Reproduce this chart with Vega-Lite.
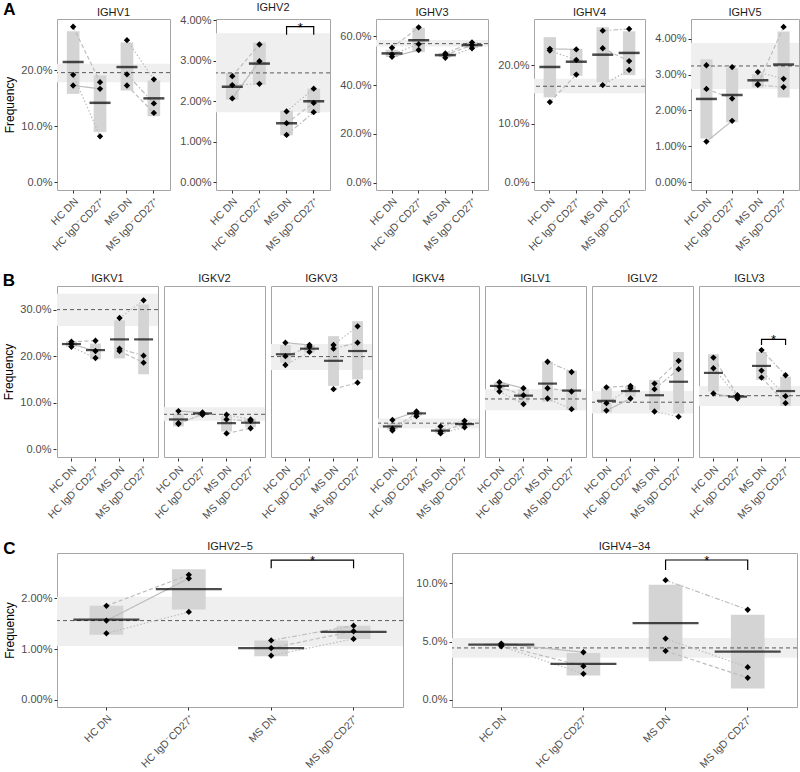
{
"$schema": "https://vega.github.io/schema/vega-lite/v6.json",
"background": "white",
"padding": {"left": 2, "top": 0, "right": 0, "bottom": 0},
"config": {
 "font": "Liberation Sans",
 "view": {"stroke": "#a6a6a6", "strokeWidth": 1},
 "axis": {"grid": false, "domain": false, "tickColor": "#333333", "tickSize": 3, "labelColor": "#4d4d4d", "labelFontSize": 11, "titleFontSize": 12, "titleFontWeight": "normal", "titleColor": "#000000", "labelPadding": 2, "titlePadding": 4},
 "axisX": {"labelAngle": -45, "labelPadding": 3, "labelFontSize": 10.5},
 "title": {"fontSize": 11, "fontWeight": "normal", "color": "#1a1a1a", "offset": 1},
 "concat": {"spacing": 8}
},
"data": {"values": [
{"gene":"IGHV1","kind":"ref","lo":17.9,"hi":21.2,"v":19.6},
{"gene":"IGHV1","kind":"sum","group":"HC DN","lo":15.8,"hi":27.0,"v":21.5},
{"gene":"IGHV1","kind":"sum","group":"HC IgD⁻CD27⁺","lo":9.0,"hi":19.1,"v":14.2},
{"gene":"IGHV1","kind":"sum","group":"MS DN","lo":16.4,"hi":25.0,"v":20.6},
{"gene":"IGHV1","kind":"sum","group":"MS IgD⁻CD27⁺","lo":11.8,"hi":18.2,"v":15.0},
{"gene":"IGHV1","kind":"pt","group":"HC DN","donor":"HC1","v":17.3},
{"gene":"IGHV1","kind":"pt","group":"HC DN","donor":"HC2","v":27.8},
{"gene":"IGHV1","kind":"pt","group":"HC DN","donor":"HC3","v":19.2},
{"gene":"IGHV1","kind":"pt","group":"HC IgD⁻CD27⁺","donor":"HC1","v":16.7},
{"gene":"IGHV1","kind":"pt","group":"HC IgD⁻CD27⁺","donor":"HC2","v":17.9},
{"gene":"IGHV1","kind":"pt","group":"HC IgD⁻CD27⁺","donor":"HC3","v":8.2},
{"gene":"IGHV1","kind":"pt","group":"MS DN","donor":"MS1","v":19.3},
{"gene":"IGHV1","kind":"pt","group":"MS DN","donor":"MS2","v":17.3},
{"gene":"IGHV1","kind":"pt","group":"MS DN","donor":"MS3","v":25.4},
{"gene":"IGHV1","kind":"pt","group":"MS IgD⁻CD27⁺","donor":"MS1","v":14.1},
{"gene":"IGHV1","kind":"pt","group":"MS IgD⁻CD27⁺","donor":"MS2","v":12.4},
{"gene":"IGHV1","kind":"pt","group":"MS IgD⁻CD27⁺","donor":"MS3","v":18.4},

{"gene":"IGHV2","kind":"ref","lo":1.73,"hi":3.68,"v":2.70},
{"gene":"IGHV2","kind":"sum","group":"HC DN","lo":2.04,"hi":2.70,"v":2.36},
{"gene":"IGHV2","kind":"sum","group":"HC IgD⁻CD27⁺","lo":2.41,"hi":3.45,"v":2.93},
{"gene":"IGHV2","kind":"sum","group":"MS DN","lo":1.16,"hi":1.77,"v":1.46},
{"gene":"IGHV2","kind":"sum","group":"MS IgD⁻CD27⁺","lo":1.71,"hi":2.31,"v":2.00},
{"gene":"IGHV2","kind":"pt","group":"HC DN","donor":"HC1","v":2.07},
{"gene":"IGHV2","kind":"pt","group":"HC DN","donor":"HC2","v":2.62},
{"gene":"IGHV2","kind":"pt","group":"HC DN","donor":"HC3","v":2.40},
{"gene":"IGHV2","kind":"pt","group":"HC IgD⁻CD27⁺","donor":"HC1","v":2.99},
{"gene":"IGHV2","kind":"pt","group":"HC IgD⁻CD27⁺","donor":"HC2","v":3.40},
{"gene":"IGHV2","kind":"pt","group":"HC IgD⁻CD27⁺","donor":"HC3","v":2.43},
{"gene":"IGHV2","kind":"pt","group":"MS DN","donor":"MS1","v":1.17},
{"gene":"IGHV2","kind":"pt","group":"MS DN","donor":"MS2","v":1.46},
{"gene":"IGHV2","kind":"pt","group":"MS DN","donor":"MS3","v":1.75},
{"gene":"IGHV2","kind":"pt","group":"MS IgD⁻CD27⁺","donor":"MS1","v":1.73},
{"gene":"IGHV2","kind":"pt","group":"MS IgD⁻CD27⁺","donor":"MS2","v":1.96},
{"gene":"IGHV2","kind":"pt","group":"MS IgD⁻CD27⁺","donor":"MS3","v":2.31},
{"gene":"IGHV2","kind":"br","group":"MS DN","v":3.64,"ord":1},
{"gene":"IGHV2","kind":"br","group":"MS DN","v":3.84,"ord":2},
{"gene":"IGHV2","kind":"br","group":"MS IgD⁻CD27⁺","v":3.84,"ord":3},
{"gene":"IGHV2","kind":"br","group":"MS IgD⁻CD27⁺","v":3.64,"ord":4},
{"gene":"IGHV2","kind":"star","group":"MS IgD⁻CD27⁺","v":3.84,"label":"*"},

{"gene":"IGHV3","kind":"ref","lo":55.8,"hi":58.5,"v":57.0},
{"gene":"IGHV3","kind":"sum","group":"HC DN","lo":51.5,"hi":54.5,"v":53.0},
{"gene":"IGHV3","kind":"sum","group":"HC IgD⁻CD27⁺","lo":53.5,"hi":63.5,"v":58.4},
{"gene":"IGHV3","kind":"sum","group":"MS DN","lo":51.4,"hi":53.2,"v":52.3},
{"gene":"IGHV3","kind":"sum","group":"MS IgD⁻CD27⁺","lo":55.2,"hi":57.6,"v":56.4},
{"gene":"IGHV3","kind":"pt","group":"HC DN","donor":"HC1","v":51.6},
{"gene":"IGHV3","kind":"pt","group":"HC DN","donor":"HC2","v":55.3},
{"gene":"IGHV3","kind":"pt","group":"HC DN","donor":"HC3","v":52.6},
{"gene":"IGHV3","kind":"pt","group":"HC IgD⁻CD27⁺","donor":"HC1","v":54.4},
{"gene":"IGHV3","kind":"pt","group":"HC IgD⁻CD27⁺","donor":"HC2","v":63.7},
{"gene":"IGHV3","kind":"pt","group":"HC IgD⁻CD27⁺","donor":"HC3","v":56.8},
{"gene":"IGHV3","kind":"pt","group":"MS DN","donor":"MS1","v":53.0},
{"gene":"IGHV3","kind":"pt","group":"MS DN","donor":"MS2","v":52.3},
{"gene":"IGHV3","kind":"pt","group":"MS DN","donor":"MS3","v":51.2},
{"gene":"IGHV3","kind":"pt","group":"MS IgD⁻CD27⁺","donor":"MS1","v":57.5},
{"gene":"IGHV3","kind":"pt","group":"MS IgD⁻CD27⁺","donor":"MS2","v":56.4},
{"gene":"IGHV3","kind":"pt","group":"MS IgD⁻CD27⁺","donor":"MS3","v":55.1},

{"gene":"IGHV4","kind":"ref","lo":15.2,"hi":17.7,"v":16.4},
{"gene":"IGHV4","kind":"sum","group":"HC DN","lo":14.5,"hi":24.8,"v":19.7},
{"gene":"IGHV4","kind":"sum","group":"HC IgD⁻CD27⁺","lo":18.2,"hi":22.8,"v":20.6},
{"gene":"IGHV4","kind":"sum","group":"MS DN","lo":17.1,"hi":26.5,"v":21.8},
{"gene":"IGHV4","kind":"sum","group":"MS IgD⁻CD27⁺","lo":18.3,"hi":25.8,"v":22.1},
{"gene":"IGHV4","kind":"pt","group":"HC DN","donor":"HC1","v":22.8},
{"gene":"IGHV4","kind":"pt","group":"HC DN","donor":"HC2","v":13.7},
{"gene":"IGHV4","kind":"pt","group":"HC DN","donor":"HC3","v":22.5},
{"gene":"IGHV4","kind":"pt","group":"HC IgD⁻CD27⁺","donor":"HC1","v":22.7},
{"gene":"IGHV4","kind":"pt","group":"HC IgD⁻CD27⁺","donor":"HC2","v":18.4},
{"gene":"IGHV4","kind":"pt","group":"HC IgD⁻CD27⁺","donor":"HC3","v":20.9},
{"gene":"IGHV4","kind":"pt","group":"MS DN","donor":"MS1","v":25.9},
{"gene":"IGHV4","kind":"pt","group":"MS DN","donor":"MS2","v":22.9},
{"gene":"IGHV4","kind":"pt","group":"MS DN","donor":"MS3","v":16.6},
{"gene":"IGHV4","kind":"pt","group":"MS IgD⁻CD27⁺","donor":"MS1","v":26.2},
{"gene":"IGHV4","kind":"pt","group":"MS IgD⁻CD27⁺","donor":"MS2","v":20.7},
{"gene":"IGHV4","kind":"pt","group":"MS IgD⁻CD27⁺","donor":"MS3","v":19.2},

{"gene":"IGHV5","kind":"ref","lo":2.60,"hi":3.88,"v":3.24},
{"gene":"IGHV5","kind":"sum","group":"HC DN","lo":1.22,"hi":3.43,"v":2.32},
{"gene":"IGHV5","kind":"sum","group":"HC IgD⁻CD27⁺","lo":1.67,"hi":3.18,"v":2.43},
{"gene":"IGHV5","kind":"sum","group":"MS DN","lo":2.64,"hi":3.01,"v":2.84},
{"gene":"IGHV5","kind":"sum","group":"MS IgD⁻CD27⁺","lo":2.36,"hi":4.20,"v":3.28},
{"gene":"IGHV5","kind":"pt","group":"HC DN","donor":"HC1","v":1.13},
{"gene":"IGHV5","kind":"pt","group":"HC DN","donor":"HC2","v":2.60},
{"gene":"IGHV5","kind":"pt","group":"HC DN","donor":"HC3","v":3.26},
{"gene":"IGHV5","kind":"pt","group":"HC IgD⁻CD27⁺","donor":"HC1","v":1.71},
{"gene":"IGHV5","kind":"pt","group":"HC IgD⁻CD27⁺","donor":"HC2","v":2.33},
{"gene":"IGHV5","kind":"pt","group":"HC IgD⁻CD27⁺","donor":"HC3","v":3.21},
{"gene":"IGHV5","kind":"pt","group":"MS DN","donor":"MS1","v":2.71},
{"gene":"IGHV5","kind":"pt","group":"MS DN","donor":"MS2","v":2.73},
{"gene":"IGHV5","kind":"pt","group":"MS DN","donor":"MS3","v":3.07},
{"gene":"IGHV5","kind":"pt","group":"MS IgD⁻CD27⁺","donor":"MS1","v":2.65},
{"gene":"IGHV5","kind":"pt","group":"MS IgD⁻CD27⁺","donor":"MS2","v":4.33},
{"gene":"IGHV5","kind":"pt","group":"MS IgD⁻CD27⁺","donor":"MS3","v":2.88},

{"gene":"IGKV1","kind":"ref","lo":26.5,"hi":33.4,"v":30.0},
{"gene":"IGKV1","kind":"sum","group":"HC DN","lo":22.0,"hi":23.2,"v":22.6},
{"gene":"IGKV1","kind":"sum","group":"HC IgD⁻CD27⁺","lo":19.3,"hi":22.7,"v":21.3},
{"gene":"IGKV1","kind":"sum","group":"MS DN","lo":19.5,"hi":27.7,"v":23.6},
{"gene":"IGKV1","kind":"sum","group":"MS IgD⁻CD27⁺","lo":16.1,"hi":31.1,"v":23.6},
{"gene":"IGKV1","kind":"pt","group":"HC DN","donor":"HC1","v":22.6},
{"gene":"IGKV1","kind":"pt","group":"HC DN","donor":"HC2","v":23.1},
{"gene":"IGKV1","kind":"pt","group":"HC DN","donor":"HC3","v":22.0},
{"gene":"IGKV1","kind":"pt","group":"HC IgD⁻CD27⁺","donor":"HC1","v":21.1},
{"gene":"IGKV1","kind":"pt","group":"HC IgD⁻CD27⁺","donor":"HC2","v":23.3},
{"gene":"IGKV1","kind":"pt","group":"HC IgD⁻CD27⁺","donor":"HC3","v":19.6},
{"gene":"IGKV1","kind":"pt","group":"MS DN","donor":"MS1","v":21.6},
{"gene":"IGKV1","kind":"pt","group":"MS DN","donor":"MS2","v":21.1},
{"gene":"IGKV1","kind":"pt","group":"MS DN","donor":"MS3","v":28.2},
{"gene":"IGKV1","kind":"pt","group":"MS IgD⁻CD27⁺","donor":"MS1","v":20.1},
{"gene":"IGKV1","kind":"pt","group":"MS IgD⁻CD27⁺","donor":"MS2","v":18.6},
{"gene":"IGKV1","kind":"pt","group":"MS IgD⁻CD27⁺","donor":"MS3","v":32.0},

{"gene":"IGKV2","kind":"ref","lo":6.1,"hi":9.0,"v":7.5},
{"gene":"IGKV2","kind":"sum","group":"HC DN","lo":4.9,"hi":7.7,"v":6.4},
{"gene":"IGKV2","kind":"sum","group":"HC IgD⁻CD27⁺","lo":7.4,"hi":8.0,"v":7.7},
{"gene":"IGKV2","kind":"sum","group":"MS DN","lo":3.8,"hi":7.1,"v":5.6},
{"gene":"IGKV2","kind":"sum","group":"MS IgD⁻CD27⁺","lo":4.7,"hi":6.6,"v":5.7},
{"gene":"IGKV2","kind":"pt","group":"HC DN","donor":"HC1","v":8.2},
{"gene":"IGKV2","kind":"pt","group":"HC DN","donor":"HC2","v":5.4},
{"gene":"IGKV2","kind":"pt","group":"HC DN","donor":"HC3","v":5.6},
{"gene":"IGKV2","kind":"pt","group":"HC IgD⁻CD27⁺","donor":"HC1","v":7.9},
{"gene":"IGKV2","kind":"pt","group":"HC IgD⁻CD27⁺","donor":"HC2","v":7.6},
{"gene":"IGKV2","kind":"pt","group":"HC IgD⁻CD27⁺","donor":"HC3","v":7.4},
{"gene":"IGKV2","kind":"pt","group":"MS DN","donor":"MS1","v":6.4},
{"gene":"IGKV2","kind":"pt","group":"MS DN","donor":"MS2","v":3.4},
{"gene":"IGKV2","kind":"pt","group":"MS DN","donor":"MS3","v":7.4},
{"gene":"IGKV2","kind":"pt","group":"MS IgD⁻CD27⁺","donor":"MS1","v":6.1},
{"gene":"IGKV2","kind":"pt","group":"MS IgD⁻CD27⁺","donor":"MS2","v":4.5},
{"gene":"IGKV2","kind":"pt","group":"MS IgD⁻CD27⁺","donor":"MS3","v":6.4},

{"gene":"IGKV3","kind":"ref","lo":17.0,"hi":22.6,"v":19.9},
{"gene":"IGKV3","kind":"sum","group":"HC DN","lo":18.6,"hi":22.4,"v":20.4},
{"gene":"IGKV3","kind":"sum","group":"HC IgD⁻CD27⁺","lo":20.8,"hi":22.4,"v":21.6},
{"gene":"IGKV3","kind":"sum","group":"MS DN","lo":13.6,"hi":24.3,"v":19.0},
{"gene":"IGKV3","kind":"sum","group":"MS IgD⁻CD27⁺","lo":15.0,"hi":27.5,"v":21.1},
{"gene":"IGKV3","kind":"pt","group":"HC DN","donor":"HC1","v":22.9},
{"gene":"IGKV3","kind":"pt","group":"HC DN","donor":"HC2","v":20.0},
{"gene":"IGKV3","kind":"pt","group":"HC DN","donor":"HC3","v":18.1},
{"gene":"IGKV3","kind":"pt","group":"HC IgD⁻CD27⁺","donor":"HC1","v":22.4},
{"gene":"IGKV3","kind":"pt","group":"HC IgD⁻CD27⁺","donor":"HC2","v":22.0},
{"gene":"IGKV3","kind":"pt","group":"HC IgD⁻CD27⁺","donor":"HC3","v":20.9},
{"gene":"IGKV3","kind":"pt","group":"MS DN","donor":"MS1","v":21.6},
{"gene":"IGKV3","kind":"pt","group":"MS DN","donor":"MS2","v":12.9},
{"gene":"IGKV3","kind":"pt","group":"MS DN","donor":"MS3","v":22.4},
{"gene":"IGKV3","kind":"pt","group":"MS IgD⁻CD27⁺","donor":"MS1","v":22.9},
{"gene":"IGKV3","kind":"pt","group":"MS IgD⁻CD27⁺","donor":"MS2","v":14.3},
{"gene":"IGKV3","kind":"pt","group":"MS IgD⁻CD27⁺","donor":"MS3","v":26.4},

{"gene":"IGKV4","kind":"ref","lo":4.5,"hi":6.6,"v":5.6},
{"gene":"IGKV4","kind":"sum","group":"HC DN","lo":4.2,"hi":5.6,"v":4.9},
{"gene":"IGKV4","kind":"sum","group":"HC IgD⁻CD27⁺","lo":7.2,"hi":8.1,"v":7.7},
{"gene":"IGKV4","kind":"sum","group":"MS DN","lo":3.4,"hi":4.6,"v":4.0},
{"gene":"IGKV4","kind":"sum","group":"MS IgD⁻CD27⁺","lo":4.8,"hi":6.0,"v":5.4},
{"gene":"IGKV4","kind":"pt","group":"HC DN","donor":"HC1","v":6.3},
{"gene":"IGKV4","kind":"pt","group":"HC DN","donor":"HC2","v":4.4},
{"gene":"IGKV4","kind":"pt","group":"HC DN","donor":"HC3","v":4.0},
{"gene":"IGKV4","kind":"pt","group":"HC IgD⁻CD27⁺","donor":"HC1","v":8.1},
{"gene":"IGKV4","kind":"pt","group":"HC IgD⁻CD27⁺","donor":"HC2","v":7.7},
{"gene":"IGKV4","kind":"pt","group":"HC IgD⁻CD27⁺","donor":"HC3","v":7.1},
{"gene":"IGKV4","kind":"pt","group":"MS DN","donor":"MS1","v":4.9},
{"gene":"IGKV4","kind":"pt","group":"MS DN","donor":"MS2","v":3.8},
{"gene":"IGKV4","kind":"pt","group":"MS DN","donor":"MS3","v":3.4},
{"gene":"IGKV4","kind":"pt","group":"MS IgD⁻CD27⁺","donor":"MS1","v":6.1},
{"gene":"IGKV4","kind":"pt","group":"MS IgD⁻CD27⁺","donor":"MS2","v":5.4},
{"gene":"IGKV4","kind":"pt","group":"MS IgD⁻CD27⁺","donor":"MS3","v":4.7},

{"gene":"IGLV1","kind":"ref","lo":8.4,"hi":12.9,"v":10.8},
{"gene":"IGLV1","kind":"sum","group":"HC DN","lo":12.6,"hi":14.4,"v":13.6},
{"gene":"IGLV1","kind":"sum","group":"HC IgD⁻CD27⁺","lo":10.0,"hi":12.9,"v":11.5},
{"gene":"IGLV1","kind":"sum","group":"MS DN","lo":10.2,"hi":18.8,"v":14.1},
{"gene":"IGLV1","kind":"sum","group":"MS IgD⁻CD27⁺","lo":8.4,"hi":16.9,"v":12.6},
{"gene":"IGLV1","kind":"pt","group":"HC DN","donor":"HC1","v":14.4},
{"gene":"IGLV1","kind":"pt","group":"HC DN","donor":"HC2","v":13.4},
{"gene":"IGLV1","kind":"pt","group":"HC DN","donor":"HC3","v":12.4},
{"gene":"IGLV1","kind":"pt","group":"HC IgD⁻CD27⁺","donor":"HC1","v":13.1},
{"gene":"IGLV1","kind":"pt","group":"HC IgD⁻CD27⁺","donor":"HC2","v":11.6},
{"gene":"IGLV1","kind":"pt","group":"HC IgD⁻CD27⁺","donor":"HC3","v":9.7},
{"gene":"IGLV1","kind":"pt","group":"MS DN","donor":"MS1","v":18.8},
{"gene":"IGLV1","kind":"pt","group":"MS DN","donor":"MS2","v":13.1},
{"gene":"IGLV1","kind":"pt","group":"MS DN","donor":"MS3","v":10.9},
{"gene":"IGLV1","kind":"pt","group":"MS IgD⁻CD27⁺","donor":"MS1","v":16.6},
{"gene":"IGLV1","kind":"pt","group":"MS IgD⁻CD27⁺","donor":"MS2","v":12.4},
{"gene":"IGLV1","kind":"pt","group":"MS IgD⁻CD27⁺","donor":"MS3","v":8.6},

{"gene":"IGLV2","kind":"ref","lo":7.7,"hi":12.5,"v":10.1},
{"gene":"IGLV2","kind":"sum","group":"HC DN","lo":7.9,"hi":13.1,"v":10.4},
{"gene":"IGLV2","kind":"sum","group":"HC IgD⁻CD27⁺","lo":11.3,"hi":13.6,"v":12.5},
{"gene":"IGLV2","kind":"sum","group":"MS DN","lo":8.4,"hi":14.9,"v":11.6},
{"gene":"IGLV2","kind":"sum","group":"MS IgD⁻CD27⁺","lo":7.7,"hi":20.9,"v":14.5},
{"gene":"IGLV2","kind":"pt","group":"HC DN","donor":"HC1","v":8.3},
{"gene":"IGLV2","kind":"pt","group":"HC DN","donor":"HC2","v":13.3},
{"gene":"IGLV2","kind":"pt","group":"HC DN","donor":"HC3","v":9.9},
{"gene":"IGLV2","kind":"pt","group":"HC IgD⁻CD27⁺","donor":"HC1","v":10.9},
{"gene":"IGLV2","kind":"pt","group":"HC IgD⁻CD27⁺","donor":"HC2","v":13.6},
{"gene":"IGLV2","kind":"pt","group":"HC IgD⁻CD27⁺","donor":"HC3","v":13.1},
{"gene":"IGLV2","kind":"pt","group":"MS DN","donor":"MS1","v":12.9},
{"gene":"IGLV2","kind":"pt","group":"MS DN","donor":"MS2","v":14.1},
{"gene":"IGLV2","kind":"pt","group":"MS DN","donor":"MS3","v":8.1},
{"gene":"IGLV2","kind":"pt","group":"MS IgD⁻CD27⁺","donor":"MS1","v":17.2},
{"gene":"IGLV2","kind":"pt","group":"MS IgD⁻CD27⁺","donor":"MS2","v":19.0},
{"gene":"IGLV2","kind":"pt","group":"MS IgD⁻CD27⁺","donor":"MS3","v":7.0},

{"gene":"IGLV3","kind":"ref","lo":9.3,"hi":13.6,"v":11.5},
{"gene":"IGLV3","kind":"sum","group":"HC DN","lo":12.4,"hi":20.4,"v":16.4},
{"gene":"IGLV3","kind":"sum","group":"HC IgD⁻CD27⁺","lo":11.0,"hi":11.6,"v":11.3},
{"gene":"IGLV3","kind":"sum","group":"MS DN","lo":14.9,"hi":20.9,"v":17.9},
{"gene":"IGLV3","kind":"sum","group":"MS IgD⁻CD27⁺","lo":9.3,"hi":15.6,"v":12.5},
{"gene":"IGLV3","kind":"pt","group":"HC DN","donor":"HC1","v":12.0},
{"gene":"IGLV3","kind":"pt","group":"HC DN","donor":"HC2","v":19.7},
{"gene":"IGLV3","kind":"pt","group":"HC DN","donor":"HC3","v":17.4},
{"gene":"IGLV3","kind":"pt","group":"HC IgD⁻CD27⁺","donor":"HC1","v":10.9},
{"gene":"IGLV3","kind":"pt","group":"HC IgD⁻CD27⁺","donor":"HC2","v":11.6},
{"gene":"IGLV3","kind":"pt","group":"HC IgD⁻CD27⁺","donor":"HC3","v":11.3},
{"gene":"IGLV3","kind":"pt","group":"MS DN","donor":"MS1","v":21.3},
{"gene":"IGLV3","kind":"pt","group":"MS DN","donor":"MS2","v":15.4},
{"gene":"IGLV3","kind":"pt","group":"MS DN","donor":"MS3","v":16.9},
{"gene":"IGLV3","kind":"pt","group":"MS IgD⁻CD27⁺","donor":"MS1","v":15.9},
{"gene":"IGLV3","kind":"pt","group":"MS IgD⁻CD27⁺","donor":"MS2","v":9.9},
{"gene":"IGLV3","kind":"pt","group":"MS IgD⁻CD27⁺","donor":"MS3","v":11.4},
{"gene":"IGLV3","kind":"br","group":"MS DN","v":22.4,"ord":1},
{"gene":"IGLV3","kind":"br","group":"MS DN","v":23.6,"ord":2},
{"gene":"IGLV3","kind":"br","group":"MS IgD⁻CD27⁺","v":23.6,"ord":3},
{"gene":"IGLV3","kind":"br","group":"MS IgD⁻CD27⁺","v":22.4,"ord":4},
{"gene":"IGLV3","kind":"star","group":"MS IgD⁻CD27⁺","v":23.6,"label":"*"},

{"gene":"IGHV2-5","kind":"ref","lo":1.06,"hi":2.03,"v":1.56},
{"gene":"IGHV2-5","kind":"sum","group":"HC DN","lo":1.28,"hi":1.85,"v":1.58},
{"gene":"IGHV2-5","kind":"sum","group":"HC IgD⁻CD27⁺","lo":1.78,"hi":2.57,"v":2.18},
{"gene":"IGHV2-5","kind":"sum","group":"MS DN","lo":0.86,"hi":1.17,"v":1.02},
{"gene":"IGHV2-5","kind":"sum","group":"MS IgD⁻CD27⁺","lo":1.20,"hi":1.46,"v":1.34},
{"gene":"IGHV2-5","kind":"pt","group":"HC DN","donor":"HC1","v":1.56},
{"gene":"IGHV2-5","kind":"pt","group":"HC DN","donor":"HC2","v":1.85},
{"gene":"IGHV2-5","kind":"pt","group":"HC DN","donor":"HC3","v":1.31},
{"gene":"IGHV2-5","kind":"pt","group":"HC IgD⁻CD27⁺","donor":"HC1","v":2.39},
{"gene":"IGHV2-5","kind":"pt","group":"HC IgD⁻CD27⁺","donor":"HC2","v":2.46},
{"gene":"IGHV2-5","kind":"pt","group":"HC IgD⁻CD27⁺","donor":"HC3","v":1.73},
{"gene":"IGHV2-5","kind":"pt","group":"MS DN","donor":"MS1","v":1.17},
{"gene":"IGHV2-5","kind":"pt","group":"MS DN","donor":"MS2","v":1.02},
{"gene":"IGHV2-5","kind":"pt","group":"MS DN","donor":"MS3","v":0.87},
{"gene":"IGHV2-5","kind":"pt","group":"MS IgD⁻CD27⁺","donor":"MS1","v":1.46},
{"gene":"IGHV2-5","kind":"pt","group":"MS IgD⁻CD27⁺","donor":"MS2","v":1.35},
{"gene":"IGHV2-5","kind":"pt","group":"MS IgD⁻CD27⁺","donor":"MS3","v":1.20},
{"gene":"IGHV2-5","kind":"br","group":"MS DN","v":2.59,"ord":1},
{"gene":"IGHV2-5","kind":"br","group":"MS DN","v":2.75,"ord":2},
{"gene":"IGHV2-5","kind":"br","group":"MS IgD⁻CD27⁺","v":2.75,"ord":3},
{"gene":"IGHV2-5","kind":"br","group":"MS IgD⁻CD27⁺","v":2.59,"ord":4},
{"gene":"IGHV2-5","kind":"star","group":"MS IgD⁻CD27⁺","v":2.75,"label":"*"},

{"gene":"IGHV4-34","kind":"ref","lo":3.61,"hi":5.31,"v":4.46},
{"gene":"IGHV4-34","kind":"sum","group":"HC DN","lo":4.60,"hi":4.85,"v":4.74},
{"gene":"IGHV4-34","kind":"sum","group":"HC IgD⁻CD27⁺","lo":2.10,"hi":4.03,"v":3.10},
{"gene":"IGHV4-34","kind":"sum","group":"MS DN","lo":3.32,"hi":9.86,"v":6.59},
{"gene":"IGHV4-34","kind":"sum","group":"MS IgD⁻CD27⁺","lo":0.99,"hi":7.30,"v":4.15},
{"gene":"IGHV4-34","kind":"pt","group":"HC DN","donor":"HC1","v":4.83},
{"gene":"IGHV4-34","kind":"pt","group":"HC DN","donor":"HC2","v":4.69},
{"gene":"IGHV4-34","kind":"pt","group":"HC DN","donor":"HC3","v":4.60},
{"gene":"IGHV4-34","kind":"pt","group":"HC IgD⁻CD27⁺","donor":"HC1","v":4.09},
{"gene":"IGHV4-34","kind":"pt","group":"HC IgD⁻CD27⁺","donor":"HC2","v":2.90},
{"gene":"IGHV4-34","kind":"pt","group":"HC IgD⁻CD27⁺","donor":"HC3","v":2.24},
{"gene":"IGHV4-34","kind":"pt","group":"MS DN","donor":"MS1","v":10.26},
{"gene":"IGHV4-34","kind":"pt","group":"MS DN","donor":"MS2","v":4.20},
{"gene":"IGHV4-34","kind":"pt","group":"MS DN","donor":"MS3","v":5.26},
{"gene":"IGHV4-34","kind":"pt","group":"MS IgD⁻CD27⁺","donor":"MS1","v":7.73},
{"gene":"IGHV4-34","kind":"pt","group":"MS IgD⁻CD27⁺","donor":"MS2","v":1.90},
{"gene":"IGHV4-34","kind":"pt","group":"MS IgD⁻CD27⁺","donor":"MS3","v":2.81},
{"gene":"IGHV4-34","kind":"br","group":"MS DN","v":11.14,"ord":1},
{"gene":"IGHV4-34","kind":"br","group":"MS DN","v":11.99,"ord":2},
{"gene":"IGHV4-34","kind":"br","group":"MS IgD⁻CD27⁺","v":11.99,"ord":3},
{"gene":"IGHV4-34","kind":"br","group":"MS IgD⁻CD27⁺","v":11.14,"ord":4},
{"gene":"IGHV4-34","kind":"star","group":"MS IgD⁻CD27⁺","v":11.99,"label":"*"}
]},
"vconcat": [
{
 "title": {"text": "A", "anchor": "start", "frame": "bounds", "fontSize": 17, "fontWeight": "bold", "color": "#000000", "offset": -17},
 "spacing": 8,
 "hconcat": [
  {"width": 113, "height": 171, "title": "IGHV1",
   "transform": [{"filter": "datum.gene === 'IGHV1'"}],
   "layer": [
    {"transform": [{"filter": "datum.kind === 'ref'"}], "mark": {"type": "rect", "color": "#efefef"}, "encoding": {"y": {"field": "lo", "type": "quantitative", "title": "Frequency", "scale": {"domain": [-1.39, 29.19], "nice": false, "zero": false}, "axis": {"values": [0, 10, 20], "labelExpr": "format(datum.value, '.1f') + '%'"}}, "y2": {"field": "hi"}}},
    {"transform": [{"filter": "datum.kind === 'sum'"}], "mark": {"type": "bar", "color": "#d4d4d4", "width": {"band": 0.47}}, "encoding": {"x": {"field": "group", "type": "nominal", "scale": {"type": "band", "domain": ["HC DN", "HC IgD⁻CD27⁺", "MS DN", "MS IgD⁻CD27⁺"], "paddingInner": 0, "paddingOuter": 0.1}, "title": null}, "y": {"field": "lo", "type": "quantitative", "title": "Frequency"}, "y2": {"field": "hi"}}},
    {"transform": [{"filter": "datum.kind === 'ref'"}], "mark": {"type": "rule", "color": "#333333", "strokeWidth": 0.8, "strokeDash": [4, 3]}, "encoding": {"y": {"field": "v", "type": "quantitative", "title": "Frequency"}}},
    {"transform": [{"filter": "datum.kind === 'pt'"}], "mark": {"type": "line", "color": "#bdbdbd", "strokeWidth": 1.2}, "encoding": {"x": {"field": "group", "type": "nominal", "title": null}, "y": {"field": "v", "type": "quantitative", "title": "Frequency"}, "detail": {"field": "donor", "type": "nominal"}, "strokeDash": {"field": "donor", "type": "nominal", "scale": {"domain": ["HC1", "HC2", "HC3", "MS1", "MS2", "MS3"], "range": [[1, 0], [4, 2.5], [1.5, 2], [5, 2, 1.5, 2], [4, 2.5], [1.5, 2]]}, "legend": null}}},
    {"transform": [{"filter": "datum.kind === 'sum'"}], "mark": {"type": "tick", "color": "#000000", "thickness": 2.5, "size": 21}, "encoding": {"x": {"field": "group", "type": "nominal", "title": null}, "y": {"field": "v", "type": "quantitative", "title": "Frequency"}}},
    {"transform": [{"filter": "datum.kind === 'pt'"}], "mark": {"type": "point", "shape": "diamond", "filled": true, "color": "#000000", "opacity": 1, "size": 40}, "encoding": {"x": {"field": "group", "type": "nominal", "title": null}, "y": {"field": "v", "type": "quantitative", "title": "Frequency"}}}
   ]},
  {"width": 114, "height": 171, "title": "IGHV2",
   "transform": [{"filter": "datum.gene === 'IGHV2'"}],
   "layer": [
    {"transform": [{"filter": "datum.kind === 'ref'"}], "mark": {"type": "rect", "color": "#efefef"}, "encoding": {"y": {"field": "lo", "type": "quantitative", "title": null, "scale": {"domain": [-0.19, 4.03], "nice": false, "zero": false}, "axis": {"values": [0, 1, 2, 3, 4], "labelExpr": "format(datum.value, '.2f') + '%'"}}, "y2": {"field": "hi"}}},
    {"transform": [{"filter": "datum.kind === 'sum'"}], "mark": {"type": "bar", "color": "#d4d4d4", "width": {"band": 0.47}}, "encoding": {"x": {"field": "group", "type": "nominal", "scale": {"type": "band", "domain": ["HC DN", "HC IgD⁻CD27⁺", "MS DN", "MS IgD⁻CD27⁺"], "paddingInner": 0, "paddingOuter": 0.1}, "title": null}, "y": {"field": "lo", "type": "quantitative", "title": null}, "y2": {"field": "hi"}}},
    {"transform": [{"filter": "datum.kind === 'ref'"}], "mark": {"type": "rule", "color": "#333333", "strokeWidth": 0.8, "strokeDash": [4, 3]}, "encoding": {"y": {"field": "v", "type": "quantitative", "title": null}}},
    {"transform": [{"filter": "datum.kind === 'pt'"}], "mark": {"type": "line", "color": "#bdbdbd", "strokeWidth": 1.2}, "encoding": {"x": {"field": "group", "type": "nominal", "title": null}, "y": {"field": "v", "type": "quantitative", "title": null}, "detail": {"field": "donor", "type": "nominal"}, "strokeDash": {"field": "donor", "type": "nominal", "scale": {"domain": ["HC1", "HC2", "HC3", "MS1", "MS2", "MS3"], "range": [[1, 0], [4, 2.5], [1.5, 2], [5, 2, 1.5, 2], [4, 2.5], [1.5, 2]]}, "legend": null}}},
    {"transform": [{"filter": "datum.kind === 'sum'"}], "mark": {"type": "tick", "color": "#000000", "thickness": 2.5, "size": 21}, "encoding": {"x": {"field": "group", "type": "nominal", "title": null}, "y": {"field": "v", "type": "quantitative", "title": null}}},
    {"transform": [{"filter": "datum.kind === 'pt'"}], "mark": {"type": "point", "shape": "diamond", "filled": true, "color": "#000000", "opacity": 1, "size": 40}, "encoding": {"x": {"field": "group", "type": "nominal", "title": null}, "y": {"field": "v", "type": "quantitative", "title": null}}},
    {"transform": [{"filter": "datum.kind === 'br'"}], "mark": {"type": "line", "color": "#000000", "strokeWidth": 1.2}, "encoding": {"x": {"field": "group", "type": "nominal", "title": null}, "y": {"field": "v", "type": "quantitative", "title": null}, "order": {"field": "ord", "type": "quantitative"}}},
    {"transform": [{"filter": "datum.kind === 'star'"}], "mark": {"type": "text", "fontSize": 13, "dx": -13.5, "dy": 5, "baseline": "alphabetic", "color": "#000000"}, "encoding": {"x": {"field": "group", "type": "nominal", "title": null}, "y": {"field": "v", "type": "quantitative", "title": null}, "text": {"field": "label"}}}
   ]},
  {"width": 112, "height": 171, "title": "IGHV3",
   "transform": [{"filter": "datum.gene === 'IGHV3'"}],
   "layer": [
    {"transform": [{"filter": "datum.kind === 'ref'"}], "mark": {"type": "rect", "color": "#efefef"}, "encoding": {"y": {"field": "lo", "type": "quantitative", "title": null, "scale": {"domain": [-3.0, 67.1], "nice": false, "zero": false}, "axis": {"values": [0, 20, 40, 60], "labelExpr": "format(datum.value, '.1f') + '%'"}}, "y2": {"field": "hi"}}},
    {"transform": [{"filter": "datum.kind === 'sum'"}], "mark": {"type": "bar", "color": "#d4d4d4", "width": {"band": 0.47}}, "encoding": {"x": {"field": "group", "type": "nominal", "scale": {"type": "band", "domain": ["HC DN", "HC IgD⁻CD27⁺", "MS DN", "MS IgD⁻CD27⁺"], "paddingInner": 0, "paddingOuter": 0.1}, "title": null}, "y": {"field": "lo", "type": "quantitative", "title": null}, "y2": {"field": "hi"}}},
    {"transform": [{"filter": "datum.kind === 'ref'"}], "mark": {"type": "rule", "color": "#333333", "strokeWidth": 0.8, "strokeDash": [4, 3]}, "encoding": {"y": {"field": "v", "type": "quantitative", "title": null}}},
    {"transform": [{"filter": "datum.kind === 'pt'"}], "mark": {"type": "line", "color": "#bdbdbd", "strokeWidth": 1.2}, "encoding": {"x": {"field": "group", "type": "nominal", "title": null}, "y": {"field": "v", "type": "quantitative", "title": null}, "detail": {"field": "donor", "type": "nominal"}, "strokeDash": {"field": "donor", "type": "nominal", "scale": {"domain": ["HC1", "HC2", "HC3", "MS1", "MS2", "MS3"], "range": [[1, 0], [4, 2.5], [1.5, 2], [5, 2, 1.5, 2], [4, 2.5], [1.5, 2]]}, "legend": null}}},
    {"transform": [{"filter": "datum.kind === 'sum'"}], "mark": {"type": "tick", "color": "#000000", "thickness": 2.5, "size": 21}, "encoding": {"x": {"field": "group", "type": "nominal", "title": null}, "y": {"field": "v", "type": "quantitative", "title": null}}},
    {"transform": [{"filter": "datum.kind === 'pt'"}], "mark": {"type": "point", "shape": "diamond", "filled": true, "color": "#000000", "opacity": 1, "size": 40}, "encoding": {"x": {"field": "group", "type": "nominal", "title": null}, "y": {"field": "v", "type": "quantitative", "title": null}}}
   ]},
  {"width": 111, "height": 171, "title": "IGHV4",
   "transform": [{"filter": "datum.gene === 'IGHV4'"}],
   "layer": [
    {"transform": [{"filter": "datum.kind === 'ref'"}], "mark": {"type": "rect", "color": "#efefef"}, "encoding": {"y": {"field": "lo", "type": "quantitative", "title": null, "scale": {"domain": [-1.33, 27.9], "nice": false, "zero": false}, "axis": {"values": [0, 10, 20], "labelExpr": "format(datum.value, '.1f') + '%'"}}, "y2": {"field": "hi"}}},
    {"transform": [{"filter": "datum.kind === 'sum'"}], "mark": {"type": "bar", "color": "#d4d4d4", "width": {"band": 0.47}}, "encoding": {"x": {"field": "group", "type": "nominal", "scale": {"type": "band", "domain": ["HC DN", "HC IgD⁻CD27⁺", "MS DN", "MS IgD⁻CD27⁺"], "paddingInner": 0, "paddingOuter": 0.1}, "title": null}, "y": {"field": "lo", "type": "quantitative", "title": null}, "y2": {"field": "hi"}}},
    {"transform": [{"filter": "datum.kind === 'ref'"}], "mark": {"type": "rule", "color": "#333333", "strokeWidth": 0.8, "strokeDash": [4, 3]}, "encoding": {"y": {"field": "v", "type": "quantitative", "title": null}}},
    {"transform": [{"filter": "datum.kind === 'pt'"}], "mark": {"type": "line", "color": "#bdbdbd", "strokeWidth": 1.2}, "encoding": {"x": {"field": "group", "type": "nominal", "title": null}, "y": {"field": "v", "type": "quantitative", "title": null}, "detail": {"field": "donor", "type": "nominal"}, "strokeDash": {"field": "donor", "type": "nominal", "scale": {"domain": ["HC1", "HC2", "HC3", "MS1", "MS2", "MS3"], "range": [[1, 0], [4, 2.5], [1.5, 2], [5, 2, 1.5, 2], [4, 2.5], [1.5, 2]]}, "legend": null}}},
    {"transform": [{"filter": "datum.kind === 'sum'"}], "mark": {"type": "tick", "color": "#000000", "thickness": 2.5, "size": 21}, "encoding": {"x": {"field": "group", "type": "nominal", "title": null}, "y": {"field": "v", "type": "quantitative", "title": null}}},
    {"transform": [{"filter": "datum.kind === 'pt'"}], "mark": {"type": "point", "shape": "diamond", "filled": true, "color": "#000000", "opacity": 1, "size": 40}, "encoding": {"x": {"field": "group", "type": "nominal", "title": null}, "y": {"field": "v", "type": "quantitative", "title": null}}}
   ]},
  {"width": 108, "height": 171, "title": "IGHV5",
   "transform": [{"filter": "datum.gene === 'IGHV5'"}],
   "layer": [
    {"transform": [{"filter": "datum.kind === 'ref'"}], "mark": {"type": "rect", "color": "#efefef"}, "encoding": {"y": {"field": "lo", "type": "quantitative", "title": null, "scale": {"domain": [-0.22, 4.55], "nice": false, "zero": false}, "axis": {"values": [0, 1, 2, 3, 4], "labelExpr": "format(datum.value, '.2f') + '%'"}}, "y2": {"field": "hi"}}},
    {"transform": [{"filter": "datum.kind === 'sum'"}], "mark": {"type": "bar", "color": "#d4d4d4", "width": {"band": 0.47}}, "encoding": {"x": {"field": "group", "type": "nominal", "scale": {"type": "band", "domain": ["HC DN", "HC IgD⁻CD27⁺", "MS DN", "MS IgD⁻CD27⁺"], "paddingInner": 0, "paddingOuter": 0.1}, "title": null}, "y": {"field": "lo", "type": "quantitative", "title": null}, "y2": {"field": "hi"}}},
    {"transform": [{"filter": "datum.kind === 'ref'"}], "mark": {"type": "rule", "color": "#333333", "strokeWidth": 0.8, "strokeDash": [4, 3]}, "encoding": {"y": {"field": "v", "type": "quantitative", "title": null}}},
    {"transform": [{"filter": "datum.kind === 'pt'"}], "mark": {"type": "line", "color": "#bdbdbd", "strokeWidth": 1.2}, "encoding": {"x": {"field": "group", "type": "nominal", "title": null}, "y": {"field": "v", "type": "quantitative", "title": null}, "detail": {"field": "donor", "type": "nominal"}, "strokeDash": {"field": "donor", "type": "nominal", "scale": {"domain": ["HC1", "HC2", "HC3", "MS1", "MS2", "MS3"], "range": [[1, 0], [4, 2.5], [1.5, 2], [5, 2, 1.5, 2], [4, 2.5], [1.5, 2]]}, "legend": null}}},
    {"transform": [{"filter": "datum.kind === 'sum'"}], "mark": {"type": "tick", "color": "#000000", "thickness": 2.5, "size": 21}, "encoding": {"x": {"field": "group", "type": "nominal", "title": null}, "y": {"field": "v", "type": "quantitative", "title": null}}},
    {"transform": [{"filter": "datum.kind === 'pt'"}], "mark": {"type": "point", "shape": "diamond", "filled": true, "color": "#000000", "opacity": 1, "size": 40}, "encoding": {"x": {"field": "group", "type": "nominal", "title": null}, "y": {"field": "v", "type": "quantitative", "title": null}}}
   ]}
 ]
},
{
 "title": {"text": "B", "anchor": "start", "frame": "bounds", "fontSize": 17, "fontWeight": "bold", "color": "#000000", "offset": -17},
 "transform": [{"filter": {"field": "gene", "oneOf": ["IGKV1", "IGKV2", "IGKV3", "IGKV4", "IGLV1", "IGLV2", "IGLV3"]}}],
 "facet": {"column": {"field": "gene", "type": "nominal", "sort": ["IGKV1", "IGKV2", "IGKV3", "IGKV4", "IGLV1", "IGLV2", "IGLV3"], "title": null, "header": {"labelFontSize": 11, "labelColor": "#1a1a1a", "labelPadding": 1}}},
 "spacing": 4,
 "spec": {"width": 101, "height": 171,
   "layer": [
    {"transform": [{"filter": "datum.kind === 'ref'"}], "mark": {"type": "rect", "color": "#efefef"}, "encoding": {"y": {"field": "lo", "type": "quantitative", "title": "Frequency", "scale": {"domain": [-1.67, 35.07], "nice": false, "zero": false}, "axis": {"values": [0, 10, 20, 30], "labelExpr": "format(datum.value, '.1f') + '%'"}}, "y2": {"field": "hi"}}},
    {"transform": [{"filter": "datum.kind === 'sum'"}], "mark": {"type": "bar", "color": "#d4d4d4", "width": {"band": 0.45}}, "encoding": {"x": {"field": "group", "type": "nominal", "scale": {"type": "band", "domain": ["HC DN", "HC IgD⁻CD27⁺", "MS DN", "MS IgD⁻CD27⁺"], "paddingInner": 0, "paddingOuter": 0.1}, "title": null}, "y": {"field": "lo", "type": "quantitative", "title": "Frequency"}, "y2": {"field": "hi"}}},
    {"transform": [{"filter": "datum.kind === 'ref'"}], "mark": {"type": "rule", "color": "#333333", "strokeWidth": 0.8, "strokeDash": [4, 3]}, "encoding": {"y": {"field": "v", "type": "quantitative", "title": "Frequency"}}},
    {"transform": [{"filter": "datum.kind === 'pt'"}], "mark": {"type": "line", "color": "#bdbdbd", "strokeWidth": 1.2}, "encoding": {"x": {"field": "group", "type": "nominal", "title": null}, "y": {"field": "v", "type": "quantitative", "title": "Frequency"}, "detail": {"field": "donor", "type": "nominal"}, "strokeDash": {"field": "donor", "type": "nominal", "scale": {"domain": ["HC1", "HC2", "HC3", "MS1", "MS2", "MS3"], "range": [[1, 0], [4, 2.5], [1.5, 2], [5, 2, 1.5, 2], [4, 2.5], [1.5, 2]]}, "legend": null}}},
    {"transform": [{"filter": "datum.kind === 'sum'"}], "mark": {"type": "tick", "color": "#000000", "thickness": 2.2, "size": 19}, "encoding": {"x": {"field": "group", "type": "nominal", "title": null}, "y": {"field": "v", "type": "quantitative", "title": "Frequency"}}},
    {"transform": [{"filter": "datum.kind === 'pt'"}], "mark": {"type": "point", "shape": "diamond", "filled": true, "color": "#000000", "opacity": 1, "size": 40}, "encoding": {"x": {"field": "group", "type": "nominal", "title": null}, "y": {"field": "v", "type": "quantitative", "title": "Frequency"}}},
    {"transform": [{"filter": "datum.kind === 'br'"}], "mark": {"type": "line", "color": "#000000", "strokeWidth": 1.2}, "encoding": {"x": {"field": "group", "type": "nominal", "title": null}, "y": {"field": "v", "type": "quantitative", "title": "Frequency"}, "order": {"field": "ord", "type": "quantitative"}}},
    {"transform": [{"filter": "datum.kind === 'star'"}], "mark": {"type": "text", "fontSize": 13, "dx": -12, "dy": 5, "baseline": "alphabetic", "color": "#000000"}, "encoding": {"x": {"field": "group", "type": "nominal", "title": null}, "y": {"field": "v", "type": "quantitative", "title": "Frequency"}, "text": {"field": "label"}}}
   ]}
},
{
 "title": {"text": "C", "anchor": "start", "frame": "bounds", "fontSize": 17, "fontWeight": "bold", "color": "#000000", "offset": -17},
 "spacing": 11,
 "hconcat": [
  {"width": 346, "height": 154, "title": "IGHV2−5",
   "transform": [{"filter": "datum.gene === 'IGHV2-5'"}],
   "layer": [
    {"transform": [{"filter": "datum.kind === 'ref'"}], "mark": {"type": "rect", "color": "#efefef"}, "encoding": {"y": {"field": "lo", "type": "quantitative", "title": "Frequency", "scale": {"domain": [-0.14, 2.89], "nice": false, "zero": false}, "axis": {"values": [0, 1, 2], "labelExpr": "format(datum.value, '.2f') + '%'"}}, "y2": {"field": "hi"}}},
    {"transform": [{"filter": "datum.kind === 'sum'"}], "mark": {"type": "bar", "color": "#d4d4d4", "width": {"band": 0.41}}, "encoding": {"x": {"field": "group", "type": "nominal", "scale": {"type": "band", "domain": ["HC DN", "HC IgD⁻CD27⁺", "MS DN", "MS IgD⁻CD27⁺"], "paddingInner": 0, "paddingOuter": 0.1}, "title": null}, "y": {"field": "lo", "type": "quantitative", "title": "Frequency"}, "y2": {"field": "hi"}}},
    {"transform": [{"filter": "datum.kind === 'ref'"}], "mark": {"type": "rule", "color": "#333333", "strokeWidth": 0.8, "strokeDash": [4, 3]}, "encoding": {"y": {"field": "v", "type": "quantitative", "title": "Frequency"}}},
    {"transform": [{"filter": "datum.kind === 'pt'"}], "mark": {"type": "line", "color": "#bdbdbd", "strokeWidth": 1.2}, "encoding": {"x": {"field": "group", "type": "nominal", "title": null}, "y": {"field": "v", "type": "quantitative", "title": "Frequency"}, "detail": {"field": "donor", "type": "nominal"}, "strokeDash": {"field": "donor", "type": "nominal", "scale": {"domain": ["HC1", "HC2", "HC3", "MS1", "MS2", "MS3"], "range": [[1, 0], [4, 2.5], [1.5, 2], [5, 2, 1.5, 2], [4, 2.5], [1.5, 2]]}, "legend": null}}},
    {"transform": [{"filter": "datum.kind === 'sum'"}], "mark": {"type": "tick", "color": "#000000", "thickness": 2.2, "size": 66}, "encoding": {"x": {"field": "group", "type": "nominal", "title": null}, "y": {"field": "v", "type": "quantitative", "title": "Frequency"}}},
    {"transform": [{"filter": "datum.kind === 'pt'"}], "mark": {"type": "point", "shape": "diamond", "filled": true, "color": "#000000", "opacity": 1, "size": 40}, "encoding": {"x": {"field": "group", "type": "nominal", "title": null}, "y": {"field": "v", "type": "quantitative", "title": "Frequency"}}},
    {"transform": [{"filter": "datum.kind === 'br'"}], "mark": {"type": "line", "color": "#000000", "strokeWidth": 1.2}, "encoding": {"x": {"field": "group", "type": "nominal", "title": null}, "y": {"field": "v", "type": "quantitative", "title": "Frequency"}, "order": {"field": "ord", "type": "quantitative"}}},
    {"transform": [{"filter": "datum.kind === 'star'"}], "mark": {"type": "text", "fontSize": 13, "dx": -41, "dy": 5, "baseline": "alphabetic", "color": "#000000"}, "encoding": {"x": {"field": "group", "type": "nominal", "title": null}, "y": {"field": "v", "type": "quantitative", "title": "Frequency"}, "text": {"field": "label"}}}
   ]},
  {"width": 345, "height": 154, "title": "IGHV4−34",
   "transform": [{"filter": "datum.gene === 'IGHV4-34'"}],
   "layer": [
    {"transform": [{"filter": "datum.kind === 'ref'"}], "mark": {"type": "rect", "color": "#efefef"}, "encoding": {"y": {"field": "lo", "type": "quantitative", "title": null, "scale": {"domain": [-0.6, 12.59], "nice": false, "zero": false}, "axis": {"values": [0, 2.5, 5, 7.5, 10, 12.5], "labelExpr": "format(datum.value, '.1f') + '%'"}}, "y2": {"field": "hi"}}},
    {"transform": [{"filter": "datum.kind === 'sum'"}], "mark": {"type": "bar", "color": "#d4d4d4", "width": {"band": 0.41}}, "encoding": {"x": {"field": "group", "type": "nominal", "scale": {"type": "band", "domain": ["HC DN", "HC IgD⁻CD27⁺", "MS DN", "MS IgD⁻CD27⁺"], "paddingInner": 0, "paddingOuter": 0.1}, "title": null}, "y": {"field": "lo", "type": "quantitative", "title": null}, "y2": {"field": "hi"}}},
    {"transform": [{"filter": "datum.kind === 'ref'"}], "mark": {"type": "rule", "color": "#333333", "strokeWidth": 0.8, "strokeDash": [4, 3]}, "encoding": {"y": {"field": "v", "type": "quantitative", "title": null}}},
    {"transform": [{"filter": "datum.kind === 'pt'"}], "mark": {"type": "line", "color": "#bdbdbd", "strokeWidth": 1.2}, "encoding": {"x": {"field": "group", "type": "nominal", "title": null}, "y": {"field": "v", "type": "quantitative", "title": null}, "detail": {"field": "donor", "type": "nominal"}, "strokeDash": {"field": "donor", "type": "nominal", "scale": {"domain": ["HC1", "HC2", "HC3", "MS1", "MS2", "MS3"], "range": [[1, 0], [4, 2.5], [1.5, 2], [5, 2, 1.5, 2], [4, 2.5], [1.5, 2]]}, "legend": null}}},
    {"transform": [{"filter": "datum.kind === 'sum'"}], "mark": {"type": "tick", "color": "#000000", "thickness": 2.2, "size": 66}, "encoding": {"x": {"field": "group", "type": "nominal", "title": null}, "y": {"field": "v", "type": "quantitative", "title": null}}},
    {"transform": [{"filter": "datum.kind === 'pt'"}], "mark": {"type": "point", "shape": "diamond", "filled": true, "color": "#000000", "opacity": 1, "size": 40}, "encoding": {"x": {"field": "group", "type": "nominal", "title": null}, "y": {"field": "v", "type": "quantitative", "title": null}}},
    {"transform": [{"filter": "datum.kind === 'br'"}], "mark": {"type": "line", "color": "#000000", "strokeWidth": 1.2}, "encoding": {"x": {"field": "group", "type": "nominal", "title": null}, "y": {"field": "v", "type": "quantitative", "title": null}, "order": {"field": "ord", "type": "quantitative"}}},
    {"transform": [{"filter": "datum.kind === 'star'"}], "mark": {"type": "text", "fontSize": 13, "dx": -41, "dy": 5, "baseline": "alphabetic", "color": "#000000"}, "encoding": {"x": {"field": "group", "type": "nominal", "title": null}, "y": {"field": "v", "type": "quantitative", "title": null}, "text": {"field": "label"}}}
   ]}
 ]
}
],
"spacing": 18
}
